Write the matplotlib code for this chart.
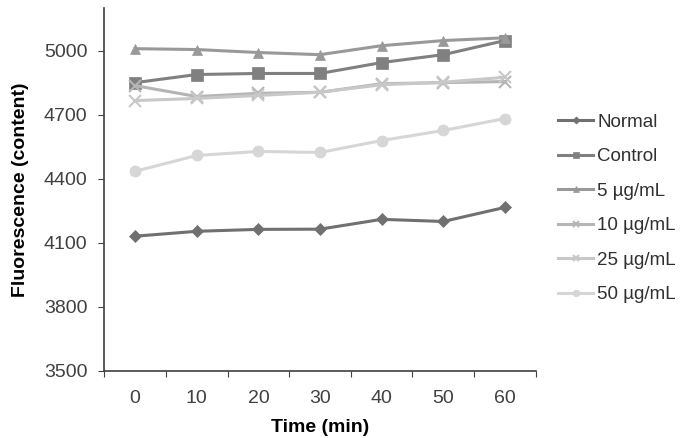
import matplotlib
matplotlib.use("Agg")
import matplotlib.pyplot as plt

plt.rcParams['font.family'] = ['Liberation Sans', 'DejaVu Sans']

# data
times = [0, 10, 20, 30, 40, 50, 60]
normal = [4131, 4154, 4163, 4164, 4210, 4200, 4266]
control = [4850, 4888, 4893, 4893, 4944, 4981, 5047]
ug5 = [5009, 5005, 4991, 4981, 5023, 5047, 5060]
ug10 = [4836, 4785, 4800, 4805, 4845, 4850, 4855]
ug25 = [4766, 4776, 4790, 4805, 4840, 4852, 4875]
ug50 = [4435, 4509, 4528, 4523, 4579, 4626, 4682]

names = ["Normal", "Control", "5 µg/mL", "10 µg/mL", "25 µg/mL", "50 µg/mL"]
series = [normal, control, ug5, ug10, ug25, ug50]
colors = ["#707070", "#808080", "#999999", "#b5b5b5", "#c8c8c8", "#d6d6d6"]
markers = ["D", "s", "^", "x", "x", "o"]
msizes = [6, 8, 7, 8, 8, 8]

fig = plt.figure(figsize=(6.86, 4.38), dpi=100)
ax = fig.add_axes([0.152, 0.153, 0.629, 0.829])

pos = list(range(len(times)))
for y, name, c, m, ms in zip(series, names, colors, markers, msizes):
    ax.plot(pos, y, color=c, marker=m, markersize=ms, lw=2.2, label=name,
            markeredgewidth=1.5 if m == "x" else 0.5, markeredgecolor=c)

ax.set_xlim(-0.5, len(times) - 0.5)
ax.set_ylim(3500, 5200)
ax.set_yticks(range(3500, 5001, 300))
ax.set_xticks([p - 0.5 for p in pos] + [len(times) - 0.5])
ax.set_xticklabels([])
ax.set_xticks(pos, minor=True)
ax.set_xticklabels([str(t) for t in times], minor=True)
ax.tick_params(axis='x', which='minor', length=0, pad=14, labelsize=14, colors='#404040')
ax.tick_params(axis='x', which='major', length=4, color='#404040')
ax.tick_params(axis='y', length=4, labelsize=14, colors='#404040', pad=8)
ax.tick_params(axis='y', color='#404040')
for s in ['top', 'right']:
    ax.spines[s].set_visible(False)
for s in ['left', 'bottom']:
    ax.spines[s].set_color('#404040')
    ax.spines[s].set_linewidth(1.2)

ax.set_xlabel("Time (min)", fontweight='bold', fontsize=14, labelpad=8)
ax.set_ylabel("Fluorescence (content)", fontweight='bold', fontsize=14, labelpad=11)

fig.legend(loc='center left', bbox_to_anchor=(0.813, 0.524), frameon=False,
           fontsize=13.5, labelspacing=0.93, handlelength=1.9, handletextpad=0.2,
           markerscale=0.6, labelcolor='#303030', borderpad=0, borderaxespad=0)

plt.savefig("out.png", dpi=100)
